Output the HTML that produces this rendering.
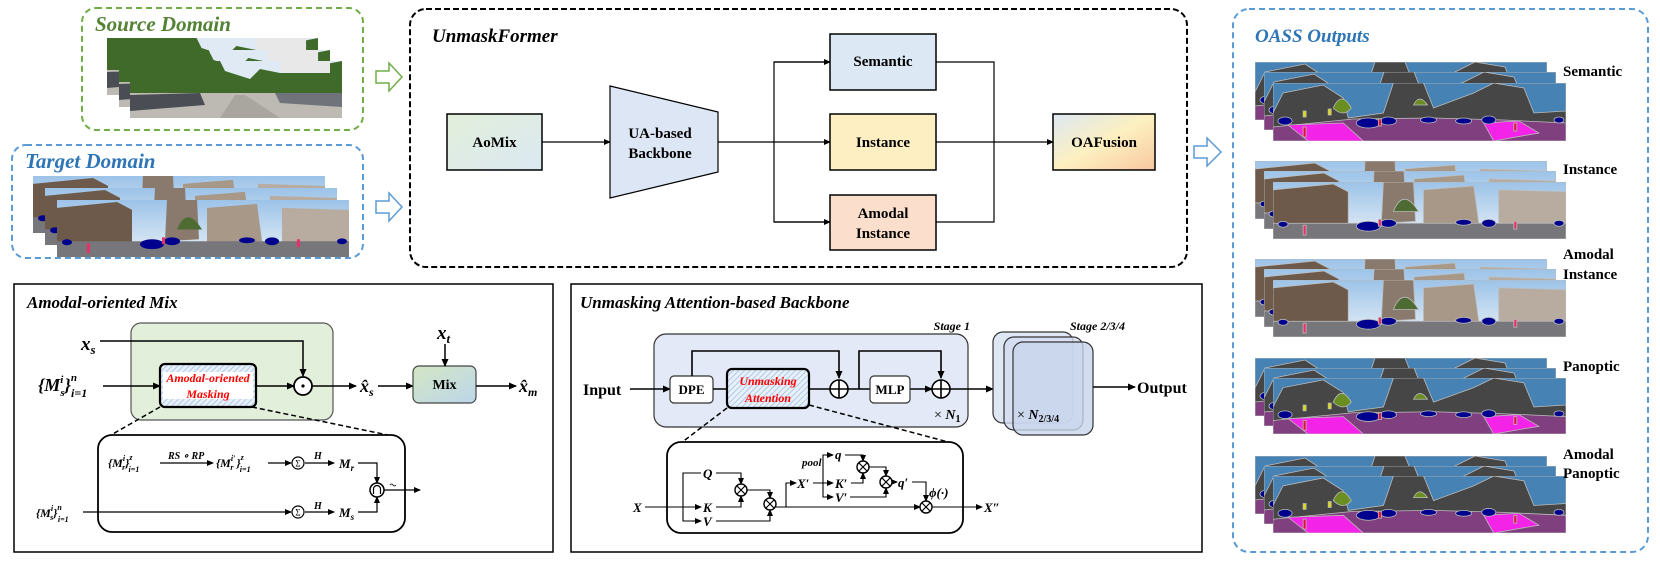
<!DOCTYPE html>
<html><head><meta charset="utf-8"><style>
html,body{margin:0;padding:0;background:#fff;}
svg{display:block;}
text{font-family:"Liberation Serif",serif;}
.b{font-weight:bold;}
.bi{font-weight:bold;font-style:italic;}
.i{font-style:italic;}
</style></head><body>
<svg width="1660" height="565" viewBox="0 0 1660 565" xmlns="http://www.w3.org/2000/svg">
<defs>
<marker id="ar" markerWidth="8" markerHeight="8" refX="7" refY="4" orient="auto" markerUnits="userSpaceOnUse"><path d="M0,0.5 L8,4 L0,7.5 z" fill="#000"/></marker>
<marker id="as" markerWidth="7" markerHeight="7" refX="6" refY="3.5" orient="auto" markerUnits="userSpaceOnUse"><path d="M0,0.5 L7,3.5 L0,6.5 z" fill="#000"/></marker>
<linearGradient id="gAo" x1="0" y1="0" x2="1" y2="1"><stop offset="0" stop-color="#e2efda"/><stop offset="1" stop-color="#dbe8f2"/></linearGradient>
<linearGradient id="gOA" x1="0" y1="0" x2="1" y2="1"><stop offset="0" stop-color="#dce8f3"/><stop offset="0.5" stop-color="#fdf0c0"/><stop offset="1" stop-color="#f8c8a0"/></linearGradient>
<linearGradient id="gMix" x1="0" y1="0" x2="1" y2="1"><stop offset="0" stop-color="#d4e6c4"/><stop offset="1" stop-color="#bcd6ea"/></linearGradient>
<pattern id="hatch" width="4" height="4" patternUnits="userSpaceOnUse" patternTransform="rotate(45)"><rect width="4" height="4" fill="#e8f0fa"/><line x1="0" y1="0" x2="0" y2="4" stroke="#9dbde0" stroke-width="1.5"/></pattern>
<linearGradient id="sky" x1="0" y1="0" x2="0" y2="1"><stop offset="0" stop-color="#9cc3e8"/><stop offset="1" stop-color="#e8f0f8"/></linearGradient>
<symbol id="seg" viewBox="0 0 292 58" preserveAspectRatio="none">
<rect width="292" height="58" fill="#4682b4"/>
<path d="M0,30 L10,10 L50,2 L70,15 L75,35 L110,30 L120,0 L150,0 L160,25 L200,10 L220,0 L250,5 L260,30 L292,28 L292,58 L0,58 z" fill="#464646"/>
<path d="M60,25 q8,-18 18,0 q-8,10 -18,0z M140,22 q6,-12 14,0 z" fill="#6b8e23"/>
<path d="M0,44 L80,36 L160,35 L230,37 L292,40 L292,58 L0,58 z" fill="#80407f"/>
<path d="M15,42 L70,40 L90,58 L35,58 z M210,40 L245,38 L265,50 L220,58 z" fill="#f423e8"/>
<g fill="#00008e"><ellipse cx="12" cy="38" rx="7" ry="4"/><ellipse cx="95" cy="40" rx="12" ry="5"/><ellipse cx="115" cy="38" rx="8" ry="4"/><ellipse cx="155" cy="37" rx="8" ry="3"/><ellipse cx="190" cy="38" rx="8" ry="3"/><ellipse cx="215" cy="37" rx="7" ry="4"/><ellipse cx="285" cy="37" rx="5" ry="3"/></g>
<g fill="#dc143c"><rect x="30" y="44" width="3" height="10"/><rect x="105" y="36" width="3" height="7"/><rect x="240" y="40" width="3" height="8"/></g>
<g fill="#dcdc00"><rect x="30" y="28" width="3" height="6"/><rect x="55" y="26" width="3" height="6"/></g>
</symbol>
<symbol id="photo" viewBox="0 0 292 58" preserveAspectRatio="none">
<rect width="292" height="58" fill="url(#sky)"/>
<path d="M0,8 L60,2 L75,10 L75,45 L0,50z" fill="#6e5a4a"/>
<path d="M110,0 L140,0 L142,40 L108,42z" fill="#8a7a6e"/>
<path d="M150,8 L200,4 L205,42 L150,44z" fill="#a89888"/>
<path d="M225,8 L292,10 L292,50 L225,45z" fill="#b8aca0"/>
<rect x="0" y="42" width="292" height="16" fill="#77767a"/>
<path d="M120,30 q10,-25 25,0z" fill="#4e6b34"/>
<g fill="#00008e"><ellipse cx="95" cy="45" rx="12" ry="5"/><ellipse cx="115" cy="42" rx="8" ry="4"/><ellipse cx="190" cy="41" rx="8" ry="3"/><ellipse cx="215" cy="42" rx="7" ry="4"/><ellipse cx="10" cy="43" rx="5" ry="3"/><ellipse cx="285" cy="42" rx="5" ry="3"/></g>
<g fill="#e8306a"><rect x="30" y="44" width="3" height="10"/><rect x="105" y="38" width="3" height="7"/><rect x="240" y="40" width="3" height="8"/></g>
</symbol>
<symbol id="src" viewBox="0 0 212 57" preserveAspectRatio="none">
<rect width="212" height="57" fill="#dfeaf4"/>
<path d="M0,0 L90,0 L95,10 L120,18 L130,8 L150,12 L212,0 L212,34 L0,36z" fill="#3f6a2a"/>
<rect x="150" y="0" width="50" height="12" fill="#e8e8e8"/>
<rect x="0" y="32" width="212" height="25" fill="#bdbab4"/>
<path d="M0,34 L70,32 L75,44 L0,50z" fill="#4a4e54"/>
<path d="M145,32 L212,32 L212,46 L150,42z" fill="#70747a"/>
<path d="M90,57 L105,34 L115,34 L150,57z" fill="#a9a6a0"/>
</symbol>
</defs>

<!-- Source Domain -->
<rect x="82" y="8" width="281" height="122" rx="14" fill="none" stroke="#70ad47" stroke-width="2" stroke-dasharray="6,4"/>
<text x="95" y="31" class="bi" font-size="21" fill="#548235">Source Domain</text>
<use href="#src" x="107" y="38" width="211" height="57"/>
<use href="#src" x="119" y="50" width="211" height="57"/>
<use href="#src" x="130" y="61" width="212" height="57"/>
<!-- Target Domain -->
<rect x="12" y="145" width="351" height="113" rx="14" fill="none" stroke="#5b9bd5" stroke-width="2" stroke-dasharray="6,4"/>
<text x="25" y="168" class="bi" font-size="21" fill="#2e75b6">Target Domain</text>
<use href="#photo" x="33" y="176" width="292" height="57"/>
<use href="#photo" x="45" y="188" width="292" height="57"/>
<use href="#photo" x="57" y="200" width="292" height="57"/>
<!-- hollow arrows -->
<path d="M376,71 L389,71 L389,63 L402,77 L389,91 L389,83 L376,83z" fill="#fff" stroke="#70ad47" stroke-width="1.5"/>
<path d="M376,201 L389,201 L389,193 L402,207 L389,221 L389,213 L376,213z" fill="#fff" stroke="#5b9bd5" stroke-width="1.5"/>
<path d="M1194,146 L1207,146 L1207,138 L1221,152 L1207,166 L1207,158 L1194,158z" fill="#fff" stroke="#5b9bd5" stroke-width="1.5"/>

<!-- UnmaskFormer -->
<rect x="410" y="9" width="777" height="258" rx="16" fill="none" stroke="#000" stroke-width="2" stroke-dasharray="6,3"/>
<text x="432" y="42" class="bi" font-size="19">UnmaskFormer</text>
<rect x="447" y="114" width="95" height="56" fill="url(#gAo)" stroke="#000" stroke-width="1.5"/>
<text x="494.5" y="147" class="b" font-size="15" text-anchor="middle">AoMix</text>
<line x1="542" y1="142" x2="610" y2="142" stroke="#000" stroke-width="1.2" marker-end="url(#as)"/>
<path d="M610,86 L718,112 L718,172 L610,198z" fill="#dde6f5" stroke="#000" stroke-width="1.2"/>
<text x="660" y="138" class="b" font-size="15" text-anchor="middle">UA-based</text>
<text x="660" y="158" class="b" font-size="15" text-anchor="middle">Backbone</text>
<line x1="718" y1="142" x2="830" y2="142" stroke="#000" stroke-width="1.2" marker-end="url(#as)"/>
<path d="M830,62 L774,62 L774,222 L830,222" fill="none" stroke="#000" stroke-width="1.2"/>
<line x1="774" y1="62" x2="830" y2="62" stroke="#000" stroke-width="1.2" marker-end="url(#as)"/>
<line x1="774" y1="222" x2="830" y2="222" stroke="#000" stroke-width="1.2" marker-end="url(#as)"/>
<rect x="830" y="34" width="106" height="56" fill="#dce8f4" stroke="#000" stroke-width="1.5"/>
<text x="883" y="66" class="b" font-size="15" text-anchor="middle">Semantic</text>
<rect x="830" y="114" width="106" height="56" fill="#fdefc2" stroke="#000" stroke-width="1.5"/>
<text x="883" y="147" class="b" font-size="15" text-anchor="middle">Instance</text>
<rect x="830" y="195" width="106" height="55" fill="#fbdfcc" stroke="#000" stroke-width="1.5"/>
<text x="883" y="218" class="b" font-size="15" text-anchor="middle">Amodal</text>
<text x="883" y="238" class="b" font-size="15" text-anchor="middle">Instance</text>
<path d="M936,62 L994,62 L994,222 L936,222 M936,142 L994,142" fill="none" stroke="#000" stroke-width="1.2"/>
<line x1="994" y1="142" x2="1053" y2="142" stroke="#000" stroke-width="1.2" marker-end="url(#as)"/>
<rect x="1053" y="114" width="102" height="56" fill="url(#gOA)" stroke="#000" stroke-width="1.5"/>
<text x="1104" y="147" class="b" font-size="15" text-anchor="middle">OAFusion</text>

<!-- OASS Outputs -->
<rect x="1233" y="9" width="415" height="543" rx="16" fill="none" stroke="#5b9bd5" stroke-width="2" stroke-dasharray="6,4"/>
<text x="1255" y="42" class="bi" font-size="19" fill="#2e75b6">OASS Outputs</text>
<g stroke="#bbb" stroke-width="0.8">
<use href="#seg" x="1255" y="62" width="292" height="58"/><use href="#seg" x="1264" y="72" width="292" height="58"/><use href="#seg" x="1273" y="83" width="293" height="58"/>
<use href="#photo" x="1255" y="161" width="292" height="58"/><use href="#photo" x="1264" y="171" width="292" height="58"/><use href="#photo" x="1273" y="182" width="293" height="57"/>
<use href="#photo" x="1255" y="259" width="292" height="58"/><use href="#photo" x="1264" y="269" width="292" height="58"/><use href="#photo" x="1273" y="280" width="293" height="57"/>
<use href="#seg" x="1255" y="358" width="292" height="58"/><use href="#seg" x="1264" y="368" width="292" height="58"/><use href="#seg" x="1273" y="378" width="293" height="56"/>
<use href="#seg" x="1255" y="456" width="292" height="58"/><use href="#seg" x="1264" y="466" width="292" height="58"/><use href="#seg" x="1273" y="476" width="293" height="57"/>
</g>
<g class="b" font-size="15">
<text x="1563" y="76">Semantic</text>
<text x="1563" y="174">Instance</text>
<text x="1563" y="259">Amodal</text>
<text x="1563" y="279">Instance</text>
<text x="1563" y="371">Panoptic</text>
<text x="1563" y="459">Amodal</text>
<text x="1563" y="478">Panoptic</text>
</g>

<!-- Amodal-oriented Mix -->
<rect x="14" y="284" width="539" height="268" fill="none" stroke="#000" stroke-width="1.5"/>
<text x="27" y="308" class="bi" font-size="17">Amodal-oriented Mix</text>
<rect x="131" y="323" width="202" height="97" rx="10" fill="#e2efda" stroke="#555" stroke-width="1.2"/>
<text x="81" y="350" class="bi" font-size="19">x<tspan font-size="13" dy="4">s</tspan></text>
<polyline points="100,341 303,341 303,376" fill="none" stroke="#000" stroke-width="1.5" marker-end="url(#ar)"/>
<text x="38" y="391" class="bi" font-size="18">{M<tspan font-size="11" dy="-8">i</tspan><tspan font-size="11" dx="-3" dy="13">s</tspan><tspan font-size="18" dy="-5">}</tspan><tspan font-size="11" dy="-10">n</tspan><tspan font-size="12" dx="-6" dy="16">i=1</tspan></text>
<line x1="103" y1="386" x2="160" y2="386" stroke="#000" stroke-width="1.5" marker-end="url(#ar)"/>
<rect x="160" y="364" width="96" height="43" rx="5" fill="url(#hatch)" stroke="#000" stroke-width="2.2"/>
<rect x="163" y="372" width="90" height="27" fill="#fff"/>
<text x="208" y="382" class="bi" font-size="12" fill="#ff0000" text-anchor="middle">Amodal-oriented</text>
<text x="208" y="398" class="bi" font-size="12" fill="#ff0000" text-anchor="middle">Masking</text>
<line x1="256" y1="386" x2="294" y2="386" stroke="#000" stroke-width="1.5" marker-end="url(#ar)"/>
<circle cx="303" cy="386" r="9" fill="#fff" stroke="#000" stroke-width="1.8"/>
<circle cx="303" cy="386" r="1.6" fill="#000"/>
<line x1="312" y1="386" x2="356" y2="386" stroke="#000" stroke-width="1.5" marker-end="url(#ar)"/>
<text x="360" y="392" class="bi" font-size="18">x̂<tspan font-size="12" dy="4">s</tspan></text>
<line x1="378" y1="386" x2="413" y2="386" stroke="#000" stroke-width="1.5" marker-end="url(#ar)"/>
<rect x="413" y="366" width="63" height="37" rx="6" fill="url(#gMix)" stroke="#444" stroke-width="1.2"/>
<text x="444.5" y="389" class="b" font-size="14" text-anchor="middle">Mix</text>
<text x="437" y="339" class="bi" font-size="19">x<tspan font-size="13" dy="4">t</tspan></text>
<line x1="445" y1="344" x2="445" y2="366" stroke="#000" stroke-width="1.5" marker-end="url(#ar)"/>
<line x1="476" y1="386" x2="516" y2="386" stroke="#000" stroke-width="1.5" marker-end="url(#ar)"/>
<text x="519" y="392" class="bi" font-size="18">x̂<tspan font-size="12" dy="4">m</tspan></text>
<line x1="160" y1="407" x2="111" y2="435" stroke="#000" stroke-width="1.5" stroke-dasharray="5,3"/>
<line x1="252" y1="407" x2="388" y2="435" stroke="#000" stroke-width="1.5" stroke-dasharray="5,3"/>
<rect x="98" y="435" width="307" height="97" rx="14" fill="#fff" stroke="#000" stroke-width="1.8"/>
<g font-size="12" class="bi">
<text x="108" y="467">{M<tspan font-size="8" dy="-6">i</tspan><tspan font-size="8" dx="-3" dy="9">r</tspan><tspan font-size="12" dy="-3">}</tspan><tspan font-size="8" dy="-7">z</tspan><tspan font-size="8" dx="-4" dy="12">i=1</tspan></text>
<text x="168" y="459" font-size="10">RS ∘ RP</text>
<text x="216" y="467">{M<tspan font-size="8" dy="-6">i′</tspan><tspan font-size="8" dx="-5" dy="9">r</tspan><tspan font-size="12" dx="3" dy="-3">}</tspan><tspan font-size="8" dy="-7">z</tspan><tspan font-size="8" dx="-4" dy="12">i=1</tspan></text>
<text x="36" y="517">{M<tspan font-size="8" dy="-6">i</tspan><tspan font-size="8" dx="-3" dy="9">s</tspan><tspan font-size="12" dy="-3">}</tspan><tspan font-size="8" dy="-7">n</tspan><tspan font-size="8" dx="-4" dy="12">i=1</tspan></text>
<text x="314" y="459" font-size="10">H</text>
<text x="314" y="509" font-size="10">H</text>
<text x="339" y="468" font-size="13">M<tspan font-size="9" dy="3">r</tspan></text>
<text x="339" y="517" font-size="13">M<tspan font-size="9" dy="3">s</tspan></text>
</g>
<g stroke="#000" stroke-width="1.2" fill="none">
<line x1="160" y1="463" x2="213" y2="463" marker-end="url(#as)"/>
<line x1="268" y1="463" x2="291" y2="463" marker-end="url(#as)"/>
<line x1="305" y1="463" x2="334" y2="463" marker-end="url(#as)"/>
<line x1="83" y1="512" x2="291" y2="512" marker-end="url(#as)"/>
<line x1="305" y1="512" x2="334" y2="512" marker-end="url(#as)"/>
<polyline points="358,463 377,463 377,483" marker-end="url(#as)"/>
<polyline points="358,512 377,512 377,497" marker-end="url(#as)"/>
<line x1="384" y1="490" x2="420" y2="490" marker-end="url(#as)"/>
<circle cx="298" cy="463" r="6" fill="#fff"/><circle cx="298" cy="512" r="6" fill="#fff"/>
<circle cx="377" cy="490" r="7" fill="#fff" stroke-width="1.5"/>
<path d="M373.5,494 L373.5,489 A3.5,3.5 0 0 1 380.5,489 L380.5,494"/>
<path d="M390,485 q1.5,-2 3,0 q1.5,2 3,0" stroke-width="0.8"/>
</g>
<text x="298" y="466.5" font-size="9" text-anchor="middle">Σ</text>
<text x="298" y="515.5" font-size="9" text-anchor="middle">Σ</text>

<!-- Unmasking Attention-based Backbone -->
<rect x="571" y="284" width="631" height="268" fill="none" stroke="#000" stroke-width="1.5"/>
<text x="580" y="308" class="bi" font-size="17">Unmasking Attention-based Backbone</text>
<rect x="654" y="334" width="314" height="93" rx="12" fill="#e3e9f6" stroke="#333" stroke-width="1.2"/>
<text x="970" y="330" class="bi" font-size="12" text-anchor="end">Stage 1</text>
<text x="934" y="419" font-size="14">× <tspan class="bi">N</tspan><tspan class="b" font-size="10" dy="3">1</tspan></text>
<text x="583" y="395" class="b" font-size="16">Input</text>
<line x1="630" y1="389" x2="670" y2="389" stroke="#000" stroke-width="1.6" marker-end="url(#ar)"/>
<rect x="670" y="376" width="43" height="27" rx="4" fill="#fff" stroke="#333" stroke-width="1.2"/>
<text x="691.5" y="394" class="b" font-size="13" text-anchor="middle">DPE</text>
<line x1="713" y1="389" x2="727" y2="389" stroke="#000" stroke-width="1.5"/>
<rect x="727" y="369" width="82" height="39" rx="5" fill="url(#hatch)" stroke="#000" stroke-width="2.2"/>
<text x="768" y="385" class="bi" font-size="12" fill="#ff0000" text-anchor="middle">Unmasking</text>
<text x="768" y="402" class="bi" font-size="12" fill="#ff0000" text-anchor="middle">Attention</text>
<g stroke="#000" stroke-width="1.6" fill="none">
<line x1="809" y1="389" x2="830" y2="389"/>
<polyline points="692,376 692,351 839,351 839,378" marker-end="url(#ar)"/>
<circle cx="839" cy="389" r="9" fill="#fff"/>
<path d="M830,389 L848,389 M839,380 L839,398"/>
<line x1="848" y1="389" x2="870" y2="389"/>
<polyline points="859,389 859,351 941,351 941,378" marker-end="url(#ar)"/>
<line x1="910" y1="389" x2="932" y2="389" marker-end="url(#ar)"/>
<circle cx="941" cy="389" r="9" fill="#fff"/>
<path d="M932,389 L950,389 M941,380 L941,398"/>
<line x1="950" y1="389" x2="993" y2="389" marker-end="url(#ar)"/>
</g>
<rect x="870" y="376" width="40" height="27" rx="4" fill="#fff" stroke="#333" stroke-width="1.2"/>
<text x="890" y="394" class="b" font-size="13" text-anchor="middle">MLP</text>
<rect x="993" y="332" width="80" height="91" rx="10" fill="#dfe6f4" stroke="#333" stroke-width="1.2"/>
<rect x="1004" y="337" width="79" height="93" rx="10" fill="#d3ddf0" fill-opacity="0.8" stroke="#333" stroke-width="1.2"/>
<rect x="1013" y="342" width="80" height="93" rx="10" fill="#c8d4ec" fill-opacity="0.8" stroke="#333" stroke-width="1.2"/>
<text x="1070" y="330" class="bi" font-size="12">Stage 2/3/4</text>
<text x="1017" y="419" font-size="14">× <tspan class="bi">N</tspan><tspan class="b" font-size="10" dy="3">2/3/4</tspan></text>
<line x1="1093" y1="387" x2="1135" y2="387" stroke="#000" stroke-width="1.6" marker-end="url(#ar)"/>
<text x="1137" y="393" class="b" font-size="16">Output</text>
<line x1="727" y1="408" x2="681" y2="443" stroke="#000" stroke-width="1.5" stroke-dasharray="5,3"/>
<line x1="809" y1="405" x2="952" y2="443" stroke="#000" stroke-width="1.5" stroke-dasharray="5,3"/>
<rect x="667" y="442" width="296" height="91" rx="14" fill="#fff" stroke="#000" stroke-width="1.8"/>
<g class="bi" font-size="13">
<text x="633" y="512">X</text>
<text x="703" y="478">Q</text>
<text x="703" y="512">K</text>
<text x="703" y="526">V</text>
<text x="797" y="488">X′</text>
<text x="802" y="466" font-size="11">pool</text>
<text x="835" y="459">q</text>
<text x="835" y="488">K′</text>
<text x="835" y="502">V′</text>
<text x="898" y="487">q′</text>
<text x="929" y="497">ϕ(·)</text>
<text x="984" y="512">X″</text>
</g>
<g stroke="#000" stroke-width="1.1" fill="none">
<line x1="645" y1="507" x2="701" y2="507" marker-end="url(#as)"/>
<polyline points="701,473 683,473 683,521 701,521" />
<line x1="692" y1="521" x2="701" y2="521" marker-end="url(#as)"/>
<polyline points="716,473 741,473 741,484" marker-end="url(#as)"/>
<polyline points="716,507 741,507 741,496" marker-end="url(#as)"/>
<polyline points="747,490 770,490 770,498" marker-end="url(#as)"/>
<polyline points="716,521 770,521 770,510" marker-end="url(#as)"/>
<line x1="776" y1="507" x2="920" y2="507" marker-end="url(#as)"/>
<polyline points="786,507 786,483 796,483" marker-end="url(#as)"/>
<line x1="813" y1="483" x2="833" y2="483" marker-end="url(#as)"/>
<polyline points="833,455 823,455 823,497 833,497"/>
<line x1="826" y1="455" x2="833" y2="455" marker-end="url(#as)"/>
<line x1="826" y1="497" x2="833" y2="497" marker-end="url(#as)"/>
<polyline points="845,455 863,455 863,461" marker-end="url(#as)"/>
<polyline points="851,483 863,483 863,473" marker-end="url(#as)"/>
<polyline points="869,467 886,467 886,476" marker-end="url(#as)"/>
<polyline points="850,497 886,497 886,488" marker-end="url(#as)"/>
<line x1="892" y1="482" x2="897" y2="482" marker-end="url(#as)"/>
<polyline points="912,482 926,482 926,501" marker-end="url(#as)"/>
<line x1="932" y1="507" x2="982" y2="507" marker-end="url(#as)"/>
</g>
<g stroke="#000" stroke-width="1.4" fill="#fff">
<circle cx="741" cy="490" r="6"/><circle cx="770" cy="504" r="6"/><circle cx="926" cy="507" r="6"/><circle cx="863" cy="467" r="6"/><circle cx="886" cy="482" r="6"/>
</g>
<g stroke="#000" stroke-width="1.2">
<path d="M737,486 l8,8 M745,486 l-8,8"/><path d="M766,500 l8,8 M774,500 l-8,8"/><path d="M922,503 l8,8 M930,503 l-8,8"/><path d="M859,463 l8,8 M867,463 l-8,8"/><path d="M882,478 l8,8 M890,478 l-8,8"/>
</g>
</svg>
</body></html>
